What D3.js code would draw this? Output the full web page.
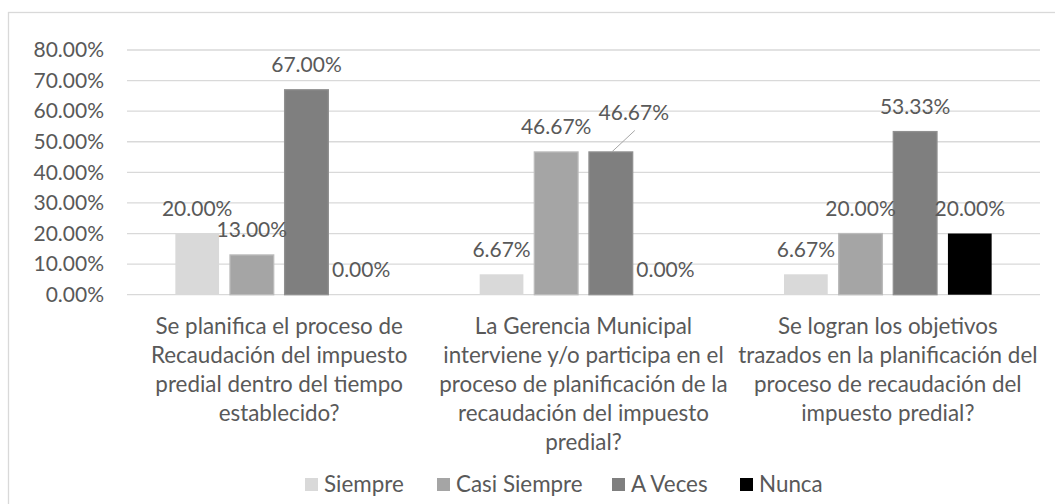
<!DOCTYPE html>
<html>
<head>
<meta charset="utf-8">
<script src="https://cdn.jsdelivr.net/npm/d3@7"></script>
<style>
  body { margin: 0; background: #fff; }
  text { font-family: Lato, "Open Sans", sans-serif; fill: #595959; }
</style>
</head>
<body>
<div id="chart"></div>
<script>
const categories = [
  "Se planifica el proceso de\nRecaudación del impuesto\npredial dentro del tiempo\nestablecido?",
  "La Gerencia Municipal\ninterviene y/o participa en el\nproceso de planificación de la\nrecaudación del impuesto\npredial?",
  "Se logran los objetivos\ntrazados en la planificación del\nproceso de recaudación del\nimpuesto predial?"
];
const series = ["Siempre", "Casi Siempre", "A Veces", "Nunca"];
const siempre = [0.20, 0.0667, 0.0667];
const casiSiempre = [0.13, 0.4667, 0.20];
const aVeces = [0.67, 0.4667, 0.5333];
const nunca = [0.00, 0.00, 0.20];
const yTicks = [0, 0.1, 0.2, 0.3, 0.4, 0.5, 0.6, 0.7, 0.8];

const colors = ["#d9d9d9", "#a5a5a5", "#7f7f7f", "#000000"];
const values = [siempre, casiSiempre, aVeces, nunca];

const width = 1055, height = 504;
const plot = { left: 127, right: 1040, top: 50, bottom: 294.7 };
const numSize = 21;   // tick and data labels
const textSize = 22.4; // category and legend labels

const svg = d3.select("#chart")
  .append("svg")
  .attr("width", width)
  .attr("height", height);

// chart frame
svg.append("rect")
  .attr("x", 8.5)
  .attr("y", 12.5)
  .attr("width", width + 10)
  .attr("height", height + 10)
  .attr("fill", "none")
  .attr("stroke", "#d9d9d9")
  .attr("stroke-width", 1.3);

const x0 = d3.scaleBand()
  .domain(d3.range(categories.length))
  .range([plot.left, plot.right]);

const x1 = d3.scaleBand()
  .domain(series)
  .range([0, x0.bandwidth()])
  .paddingInner(0.2)
  .paddingOuter(0.885);

const y = d3.scaleLinear()
  .domain([0, 0.8])
  .range([plot.bottom, plot.top]);

const fmt = d3.format(".2%");

// gridlines
svg.append("g")
  .selectAll("line")
  .data(yTicks)
  .join("line")
  .attr("x1", plot.left)
  .attr("x2", plot.right)
  .attr("y1", d => y(d))
  .attr("y2", d => y(d))
  .attr("stroke", "#d9d9d9")
  .attr("stroke-width", 1.3);

// y axis labels
const yAxis = svg.append("g")
  .attr("transform", "translate(104,0)")
  .call(d3.axisLeft(y).tickValues(yTicks).tickFormat(fmt).tickSize(0).tickPadding(0));
yAxis.select(".domain").remove();
yAxis.selectAll("text")
  .style("font-size", numSize + "px")
  .attr("fill", "#595959");

const rows = [];
categories.forEach((c, i) => {
  series.forEach((s, j) => {
    rows.push({ cat: i, series: s, idx: j, value: values[j][i] });
  });
});

// bars
svg.append("g")
  .selectAll("rect")
  .data(rows)
  .join("rect")
  .attr("x", d => x0(d.cat) + x1(d.series))
  .attr("y", d => y(d.value))
  .attr("width", x1.bandwidth())
  .attr("height", d => y(0) - y(d.value))
  .attr("fill", d => colors[d.idx])
  .attr("stroke", d => d.idx === 0 || d.idx === 3 ? "none" : d3.color(colors[d.idx]).brighter(0.35))
  .attr("stroke-width", 1.3);

// data labels (one was dragged aside in the original, with a leader line)
const moved = { cat: 1, series: "A Veces", dx: 23, dy: -14.5 };
const isMoved = d => d.cat === moved.cat && d.series === moved.series;

const m = rows.find(isMoved);
const mx = x0(m.cat) + x1(m.series) + x1.bandwidth() / 2;
svg.append("line")
  .attr("x1", mx + 1)
  .attr("y1", y(m.value))
  .attr("x2", mx + moved.dx + 1)
  .attr("y2", y(m.value) - 21.5)
  .attr("stroke", "#a6a6a6")
  .attr("stroke-width", 1);

svg.append("g")
  .selectAll("text")
  .data(rows)
  .join("text")
  .attr("x", d => x0(d.cat) + x1(d.series) + x1.bandwidth() / 2 + (isMoved(d) ? moved.dx : 0))
  .attr("y", d => y(d.value) - 17.5 + (isMoved(d) ? moved.dy : 0))
  .attr("text-anchor", "middle")
  .style("font-size", numSize + "px")
  .text(d => fmt(d.value));

// category labels
svg.append("g")
  .selectAll("text")
  .data(categories)
  .join("text")
  .attr("text-anchor", "middle")
  .style("font-size", textSize + "px")
  .each(function(d, i) {
    d3.select(this).selectAll("tspan")
      .data(d.split("\n"))
      .join("tspan")
      .attr("x", x0(i) + x0.bandwidth() / 2)
      .attr("y", (t, k) => 334 + k * 29)
      .text(t => t);
  });

// legend
const legendX = [305, 437, 612, 740];
const legend = svg.append("g")
  .selectAll("g")
  .data(series)
  .join("g")
  .attr("transform", (d, i) => `translate(${legendX[i]}, 478)`);

legend.append("rect")
  .attr("width", 13)
  .attr("height", 13)
  .attr("fill", (d, i) => colors[i]);

legend.append("text")
  .attr("x", 19)
  .attr("y", 13.5)
  .style("font-size", textSize + "px")
  .text(d => d);
</script>
</body>
</html>
